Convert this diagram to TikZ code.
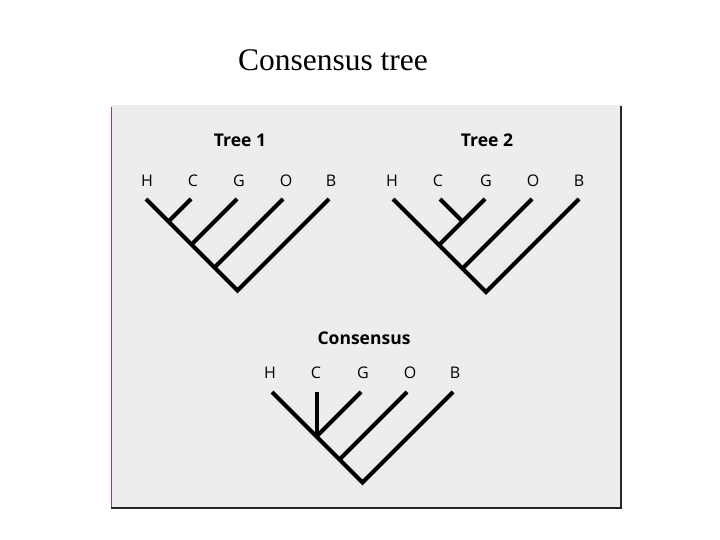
\documentclass[tikz,border=0pt]{standalone}
\usepackage{fontspec}
\setmainfont{Liberation Serif}
\newfontfamily\labfont{Open Sans}
\begin{document}
\begin{tikzpicture}[x=1pt,y=-1pt,
  branch/.style={line width=4pt,line cap=butt,line join=miter,black},
  taxon/.style={font=\labfont\fontsize{16}{18}\selectfont,anchor=base,inner sep=0pt},
  treetitle/.style={font=\labfont\bfseries\fontsize{17.5}{20}\selectfont,inner sep=0pt},
  scan/.style={fill=black!7,draw=none}]
\useasboundingbox (0,0) rectangle (720,540);
\fill[white] (0,0) rectangle (720,540);
\node[font=\fontsize{31.5}{34}\selectfont,inner sep=0pt] (title) at (333,60) {Consensus tree};
% scanned panel
\path[scan] (111,105) rectangle (621,508);
\draw[draw=violet!45!gray,line width=1.2pt] (111.5,107) -- (111.5,508);
\draw[line width=1.2pt,black!85] (621,106) -- (621,508) -- (111,508);

% ---------- Tree 1 ----------
\node[treetitle] (t1) at (240,140) {Tree 1};
\coordinate (aH) at (146,199);
\coordinate (aC) at (191,199);
\coordinate (aG) at (237,199);
\coordinate (aO) at (283,199);
\coordinate (aB) at (329,199);
\coordinate (ajC) at (168.5,221.5);
\coordinate (ajG) at (191.5,244.5);
\coordinate (ajO) at (214.5,267.5);
\coordinate (aR) at (237.5,290.5);
\draw[branch] (aH) -- (aR) -- (aB);
\draw[branch] (aC) -- (ajC);
\draw[branch] (aG) -- (ajG);
\draw[branch] (aO) -- (ajO);
\node[taxon] (laH) at (147,186.5) {H};
\node[taxon] (laC) at (193,186.5) {C};
\node[taxon] (laG) at (239,186.5) {G};
\node[taxon] (laO) at (286,186.5) {O};
\node[taxon] (laB) at (331,186.5) {B};

% ---------- Tree 2 ----------
\node[treetitle] (t2) at (487,140) {Tree 2};
\coordinate (bH) at (393,199);
\coordinate (bC) at (440,199);
\coordinate (bG) at (485,199);
\coordinate (bO) at (532,199);
\coordinate (bB) at (579,199);
\coordinate (bjCG) at (462.5,221.5);
\coordinate (bjGH) at (439,245);
\coordinate (bjO) at (462.5,268.5);
\coordinate (bR) at (486,292);
\draw[branch] (bH) -- (bR) -- (bB);
\draw[branch] (bG) -- (bjGH);
\draw[branch] (bC) -- (bjCG);
\draw[branch] (bO) -- (bjO);
\node[taxon] (lbH) at (392,186.5) {H};
\node[taxon] (lbC) at (438,186.5) {C};
\node[taxon] (lbG) at (486,186.5) {G};
\node[taxon] (lbO) at (533,186.5) {O};
\node[taxon] (lbB) at (579,186.5) {B};

% ---------- Consensus ----------
\node[treetitle] (t3) at (364,338) {Consensus};
\coordinate (cH) at (272,392);
\coordinate (cC) at (316.5,392);
\coordinate (cG) at (361,392);
\coordinate (cO) at (407,392);
\coordinate (cB) at (453,392);
\coordinate (cjHG) at (316.5,436.5);
\coordinate (cjO) at (339.5,459.5);
\coordinate (cR) at (362.5,482.5);
\draw[branch] (cH) -- (cR) -- (cB);
\draw[branch] (cG) -- (cjHG);
\draw[branch] (cC) -- (cjHG);
\draw[branch] (cO) -- (cjO);
\node[taxon] (lcH) at (270,378.5) {H};
\node[taxon] (lcC) at (316,378.5) {C};
\node[taxon] (lcG) at (363,378.5) {G};
\node[taxon] (lcO) at (410,378.5) {O};
\node[taxon] (lcB) at (455,378.5) {B};
\end{tikzpicture}
\end{document}
